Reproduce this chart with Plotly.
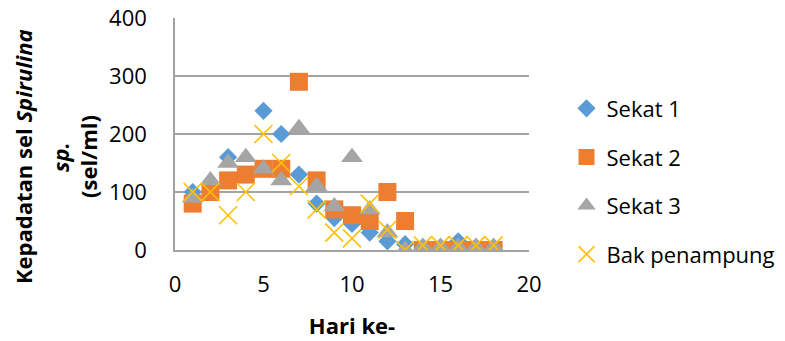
import plotly.graph_objects as go

# Day of observation
hari = list(range(1, 19))

# Cell density (sel/ml) per sampling point
sekat_1 = [100, 100, 160, 130, 240, 200, 130, 80, 55, 45, 30, 15, 10, 5, 5, 15, 5, 5]
sekat_2 = [80, 100, 120, 130, 140, 140, 290, 120, 70, 60, 50, 100, 50, 0, 0, 0, 0, 0]
sekat_3 = [90, 120, 150, 160, 140, 120, 210, 110, 75, 160, 70, 30, 0, 5, 5, 5, 5, 5]
bak_penampung = [100, 100, 60, 100, 200, 150, 110, 70, 30, 20, 80, 35, 0, 8, 8, 8, 8, 8]

x_ticks = [0, 5, 10, 15, 20]
y_ticks = [0, 100, 200, 300, 400]

FONT = "Open Sans"
GRID = "#a3a3a3"

fig = go.Figure()
fig.add_trace(go.Scatter(x=hari, y=sekat_1, mode="markers", name="Sekat 1",
                         legendgroup="g1",
                         marker=dict(symbol="diamond", size=14, color="#5B9BD5")))
fig.add_trace(go.Scatter(x=hari, y=sekat_2, mode="markers", name="Sekat 2",
                         legendgroup="g2",
                         marker=dict(symbol="square", size=18, color="#ED7D31")))
fig.add_trace(go.Scatter(x=hari, y=sekat_3, mode="markers", name="Sekat 3",
                         legendgroup="g3",
                         marker=dict(symbol="triangle-up", size=19, color="#A5A5A5")))
fig.add_trace(go.Scatter(x=hari, y=bak_penampung, mode="markers", name="Bak penampung",
                         legendgroup="g4",
                         marker=dict(symbol="x-thin", size=18, color="#FFC000",
                                     line=dict(color="#FFC000", width=1.6))))

fig.update_layout(
    width=785, height=341,
    margin=dict(l=175, r=256, t=18, b=91, autoexpand=False),
    paper_bgcolor="white", plot_bgcolor="white",
    font=dict(family=FONT, size=22, color="black"),
    showlegend=True,
    legend=dict(x=1.106, xanchor="left", y=0.295, yanchor="middle",
                traceorder="grouped", tracegroupgap=17,
                font=dict(family=FONT, size=22, color="black"),
                bgcolor="rgba(0,0,0,0)"),
    xaxis=dict(range=[0, 20], tickvals=x_ticks, ticktext=[str(v) for v in x_ticks],
               showgrid=False, zeroline=False, showline=True,
               linecolor=GRID, linewidth=1.5, ticks="", ticklabelstandoff=14,
               tickfont=dict(family=FONT, size=22, color="black"),
               title=dict(text="<b>Hari ke-</b>", standoff=21,
                          font=dict(family=FONT, size=22, color="black"))),
    yaxis=dict(range=[0, 400], tickvals=y_ticks, ticktext=[str(v) for v in y_ticks],
               showgrid=True, gridcolor=GRID, gridwidth=1.5,
               zeroline=False, showline=True,
               linecolor=GRID, linewidth=1.5, ticks="", ticklabelstandoff=22,
               tickfont=dict(family=FONT, size=22, color="black")),
)

# Y-axis title, three stacked rotated lines
y_title_lines = [
    ("<b>Kepadatan sel <i>Spirulina</i></b>", 23),
    ("<b><i>sp.</i></b>", 60),
    ("<b>(sel/ml)</b>", 88),
]
for text, px in y_title_lines:
    fig.add_annotation(text=text, xref="paper", yref="paper",
                       x=(px - 175) / 354, y=(250 - 157) / 232,
                       xanchor="center", yanchor="middle", textangle=-90,
                       showarrow=False,
                       font=dict(family=FONT, size=22, color="black"))

fig.write_html("out.html")
